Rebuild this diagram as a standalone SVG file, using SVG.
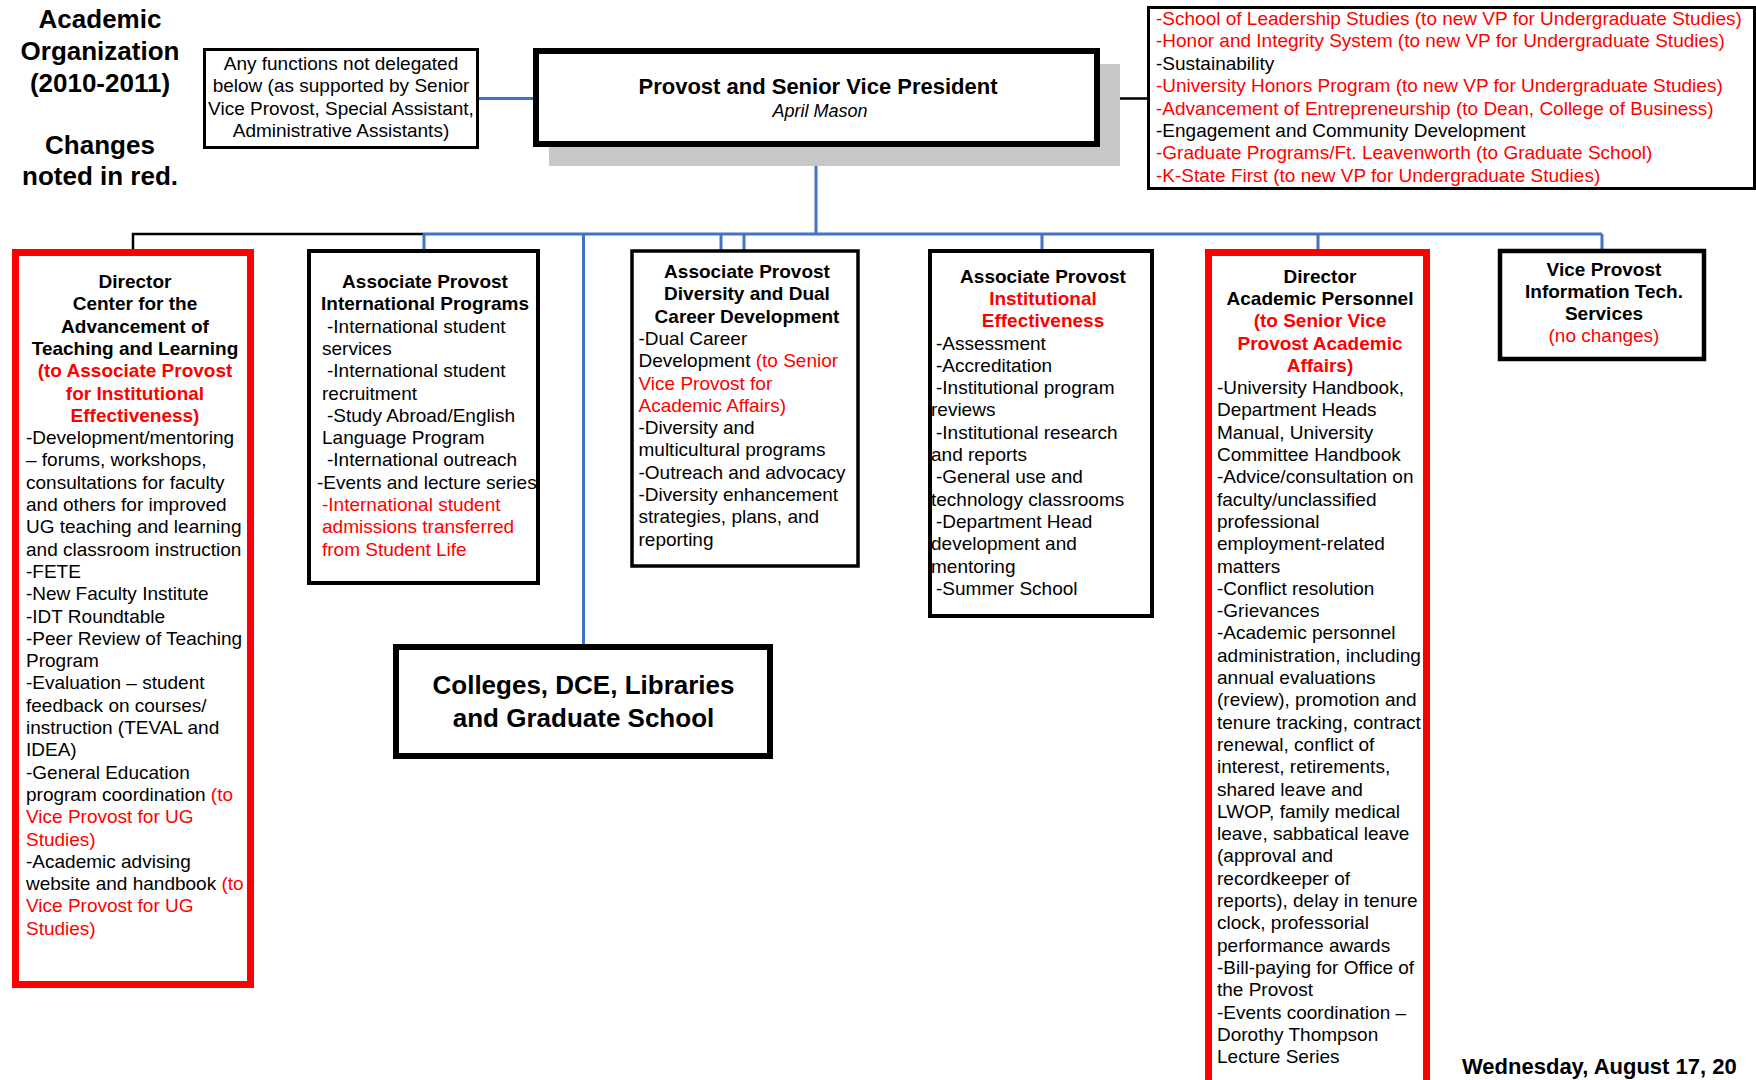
<svg xmlns="http://www.w3.org/2000/svg" width="1756" height="1080" viewBox="0 0 1756 1080">
<style>
text{font-family:"Liberation Sans",Arial,Helvetica,sans-serif;font-size:19px;fill:#000}
.b{font-weight:bold}
.c{text-anchor:middle}
.r{fill:#ff0000}
.i{font-style:italic}
.box{fill:#fff;stroke:#000}
.red{fill:#fff;stroke:#ff0000;stroke-width:7}
.blue{stroke:#4472c4;stroke-width:3;fill:none}
.blk{stroke:#000;stroke-width:2.5;fill:none}
.h1{font-size:26px;font-weight:bold}
</style>
<rect width="1756" height="1080" fill="#fff"/>

<g id="title">
<text class="h1 c" x="100" y="28">Academic</text>
<text class="h1 c" x="100" y="60">Organization</text>
<text class="h1 c" x="100" y="92">(2010-2011)</text>
<text class="h1 c" x="100" y="154">Changes</text>
<text class="h1 c" x="100" y="185">noted in red.</text>
</g>

<g id="connectors">
<line class="blue" x1="479" y1="98.5" x2="533" y2="98.5"/>
<line class="blk" x1="1100" y1="98.5" x2="1147" y2="98.5"/>
<line class="blue" x1="816" y1="147" x2="816" y2="234"/>
<polyline class="blk" points="133,250 133,234 423,234"/>
<line class="blue" x1="423" y1="234" x2="1602" y2="234"/>
<line class="blue" x1="424" y1="234" x2="424" y2="250"/>
<line class="blue" x1="583.5" y1="234" x2="583.5" y2="645"/>
<line class="blue" x1="721" y1="234" x2="721" y2="250"/>
<line class="blue" x1="744" y1="234" x2="744" y2="250"/>
<line class="blue" x1="1042" y1="234" x2="1042" y2="250"/>
<line class="blue" x1="1318" y1="234" x2="1318" y2="250"/>
<line class="blue" x1="1602" y1="234" x2="1602" y2="250"/>
</g>

<g id="delegated">
<rect class="box" x="204.5" y="49.5" width="273" height="98" stroke-width="3"/>
<text class="c" x="341" y="70">Any functions not delegated</text>
<text class="c" x="341" y="92.4">below  (as supported by Senior</text>
<text class="c" x="341" y="114.8">Vice Provost, Special Assistant,</text>
<text class="c" x="341" y="137.2">Administrative Assistants)</text>
</g>

<g id="provost">
<rect x="549" y="64" width="571" height="102" fill="#c8c8c8"/>
<rect class="box" x="536" y="51" width="561" height="93" stroke-width="6"/>
<text class="c b" x="818" y="94" style="font-size:22px">Provost and Senior Vice President</text>
<text class="c i" x="820" y="117" style="font-size:18px">April Mason</text>
</g>

<g id="transfers">
<rect class="box" x="1148.5" y="7.5" width="606" height="181" stroke-width="3"/>
<text class="r" x="1156" y="25">-School of Leadership Studies (to new VP for Undergraduate Studies)</text>
<text class="r" x="1156" y="47.4">-Honor and Integrity System (to new VP for Undergraduate Studies)</text>
<text x="1156" y="69.8">-Sustainability</text>
<text class="r" x="1156" y="92.2">-University Honors Program (to new VP for Undergraduate Studies)</text>
<text class="r" x="1156" y="114.6">-Advancement of Entrepreneurship (to Dean, College of Business)</text>
<text x="1156" y="137">-Engagement and Community Development</text>
<text class="r" x="1156" y="159.4">-Graduate Programs/Ft. Leavenworth (to Graduate School)</text>
<text class="r" x="1156" y="181.8">-K-State First (to new VP for Undergraduate Studies)</text>
</g>

<g id="catl">
<rect class="red" x="15.5" y="252.5" width="235" height="732"/>
<text class="c b" x="135" y="288">Director</text>
<text class="c b" x="135" y="310.3">Center for the</text>
<text class="c b" x="135" y="332.6">Advancement of</text>
<text class="c b" x="135" y="354.9">Teaching and Learning</text>
<text class="c b r" x="135" y="377.2">(to Associate Provost</text>
<text class="c b r" x="135" y="399.5">for Institutional</text>
<text class="c b r" x="135" y="421.8">Effectiveness)</text>
<text x="26" y="444.1">-Development/mentoring</text>
<text x="26" y="466.4">– forums, workshops,</text>
<text x="26" y="488.7">consultations for faculty</text>
<text x="26" y="511">and others for improved</text>
<text x="26" y="533.3">UG teaching and learning</text>
<text x="26" y="555.6">and classroom instruction</text>
<text x="26" y="577.9">-FETE</text>
<text x="26" y="600.2">-New Faculty Institute</text>
<text x="26" y="622.5">-IDT Roundtable</text>
<text x="26" y="644.8">-Peer Review of Teaching</text>
<text x="26" y="667.1">Program</text>
<text x="26" y="689.4">-Evaluation – student</text>
<text x="26" y="711.7">feedback on courses/</text>
<text x="26" y="734">instruction (TEVAL and</text>
<text x="26" y="756.3">IDEA)</text>
<text x="26" y="778.6">-General Education</text>
<text x="26" y="800.9">program coordination <tspan class="r">(to</tspan></text>
<text class="r" x="26" y="823.2">Vice Provost for UG</text>
<text class="r" x="26" y="845.5">Studies)</text>
<text x="26" y="867.8">-Academic advising</text>
<text x="26" y="890.1">website and handbook <tspan class="r">(to</tspan></text>
<text class="r" x="26" y="912.4">Vice Provost for UG</text>
<text class="r" x="26" y="934.7">Studies)</text>
</g>

<g id="international">
<rect class="box" x="309" y="251" width="229" height="332" stroke-width="4"/>
<text class="c b" x="425" y="288">Associate Provost</text>
<text class="c b" x="425" y="310.3">International Programs</text>
<text x="327" y="332.6">-International student</text>
<text x="322" y="354.9">services</text>
<text x="327" y="377.2">-International student</text>
<text x="322" y="399.5">recruitment</text>
<text x="327" y="421.8">-Study Abroad/English</text>
<text x="322" y="444.1">Language Program</text>
<text x="327" y="466.4">-International outreach</text>
<text x="317" y="488.7">-Events and lecture series</text>
<text class="r" x="322" y="511">-International student</text>
<text class="r" x="322" y="533.3">admissions transferred</text>
<text class="r" x="322" y="555.6">from Student Life</text>
</g>

<g id="diversity">
<rect class="box" x="632" y="251" width="226" height="315" stroke-width="3.5"/>
<text class="c b" x="747" y="278">Associate Provost</text>
<text class="c b" x="747" y="300.3">Diversity and Dual</text>
<text class="c b" x="747" y="322.6">Career Development</text>
<text x="638.5" y="344.9">-Dual Career</text>
<text x="638.5" y="367.2">Development <tspan class="r">(to Senior</tspan></text>
<text class="r" x="638.5" y="389.5">Vice Provost for</text>
<text class="r" x="638.5" y="411.8">Academic Affairs)</text>
<text x="638.5" y="434.1">-Diversity and</text>
<text x="638.5" y="456.4">multicultural programs</text>
<text x="638.5" y="478.7">-Outreach and advocacy</text>
<text x="638.5" y="501">-Diversity enhancement</text>
<text x="638.5" y="523.3">strategies, plans, and</text>
<text x="638.5" y="545.6">reporting</text>
</g>

<g id="effectiveness">
<rect class="box" x="930" y="251" width="222" height="365" stroke-width="4"/>
<text class="c b" x="1043" y="282.6">Associate Provost</text>
<text class="c b r" x="1043" y="304.9">Institutional</text>
<text class="c b r" x="1043" y="327.2">Effectiveness</text>
<text x="936" y="349.5">-Assessment</text>
<text x="936" y="371.8">-Accreditation</text>
<text x="936" y="394.1">-Institutional program</text>
<text x="931" y="416.4">reviews</text>
<text x="936" y="438.7">-Institutional research</text>
<text x="931" y="461">and reports</text>
<text x="936" y="483.3">-General use and</text>
<text x="931" y="505.6">technology classrooms</text>
<text x="936" y="527.9">-Department Head</text>
<text x="931" y="550.2">development and</text>
<text x="931" y="572.5">mentoring</text>
<text x="936" y="594.8">-Summer School</text>
</g>

<g id="personnel">
<rect class="red" x="1208.5" y="252.5" width="218" height="860"/>
<text class="c b" x="1320" y="282.6">Director</text>
<text class="c b" x="1320" y="304.9">Academic Personnel</text>
<text class="c b r" x="1320" y="327.2">(to Senior Vice</text>
<text class="c b r" x="1320" y="349.5">Provost Academic</text>
<text class="c b r" x="1320" y="371.8">Affairs)</text>
<text x="1217" y="394.1">-University Handbook,</text>
<text x="1217" y="416.4">Department Heads</text>
<text x="1217" y="438.7">Manual, University</text>
<text x="1217" y="461">Committee Handbook</text>
<text x="1217" y="483.3">-Advice/consultation on</text>
<text x="1217" y="505.6">faculty/unclassified</text>
<text x="1217" y="527.9">professional</text>
<text x="1217" y="550.2">employment-related</text>
<text x="1217" y="572.5">matters</text>
<text x="1217" y="594.8">-Conflict resolution</text>
<text x="1217" y="617.1">-Grievances</text>
<text x="1217" y="639.4">-Academic personnel</text>
<text x="1217" y="661.7">administration, including</text>
<text x="1217" y="684">annual evaluations</text>
<text x="1217" y="706.3">(review), promotion and</text>
<text x="1217" y="728.6">tenure tracking, contract</text>
<text x="1217" y="750.9">renewal, conflict of</text>
<text x="1217" y="773.2">interest, retirements,</text>
<text x="1217" y="795.5">shared leave and</text>
<text x="1217" y="817.8">LWOP, family medical</text>
<text x="1217" y="840.1">leave, sabbatical leave</text>
<text x="1217" y="862.4">(approval and</text>
<text x="1217" y="884.7">recordkeeper of</text>
<text x="1217" y="907">reports), delay in tenure</text>
<text x="1217" y="929.3">clock, professorial</text>
<text x="1217" y="951.6">performance awards</text>
<text x="1217" y="973.9">-Bill-paying for Office of</text>
<text x="1217" y="996.2">the Provost</text>
<text x="1217" y="1018.5">-Events coordination –</text>
<text x="1217" y="1040.8">Dorothy Thompson</text>
<text x="1217" y="1063.1">Lecture Series</text>
</g>

<g id="infotech">
<rect class="box" x="1500" y="251" width="204" height="108" stroke-width="4.5"/>
<text class="c b" x="1604" y="276">Vice Provost</text>
<text class="c b" x="1604" y="298">Information Tech.</text>
<text class="c b" x="1604" y="320">Services</text>
<text class="c r" x="1604" y="342">(no changes)</text>
</g>

<g id="colleges">
<rect class="box" x="396" y="647" width="374" height="109" stroke-width="6"/>
<text class="c b" x="583.5" y="693.5" style="font-size:26px">Colleges, DCE, Libraries</text>
<text class="c b" x="583.5" y="726.5" style="font-size:26px">and Graduate School</text>
</g>

<text class="b" x="1462" y="1074" style="font-size:22px">Wednesday, August 17, 20</text>
</svg>
